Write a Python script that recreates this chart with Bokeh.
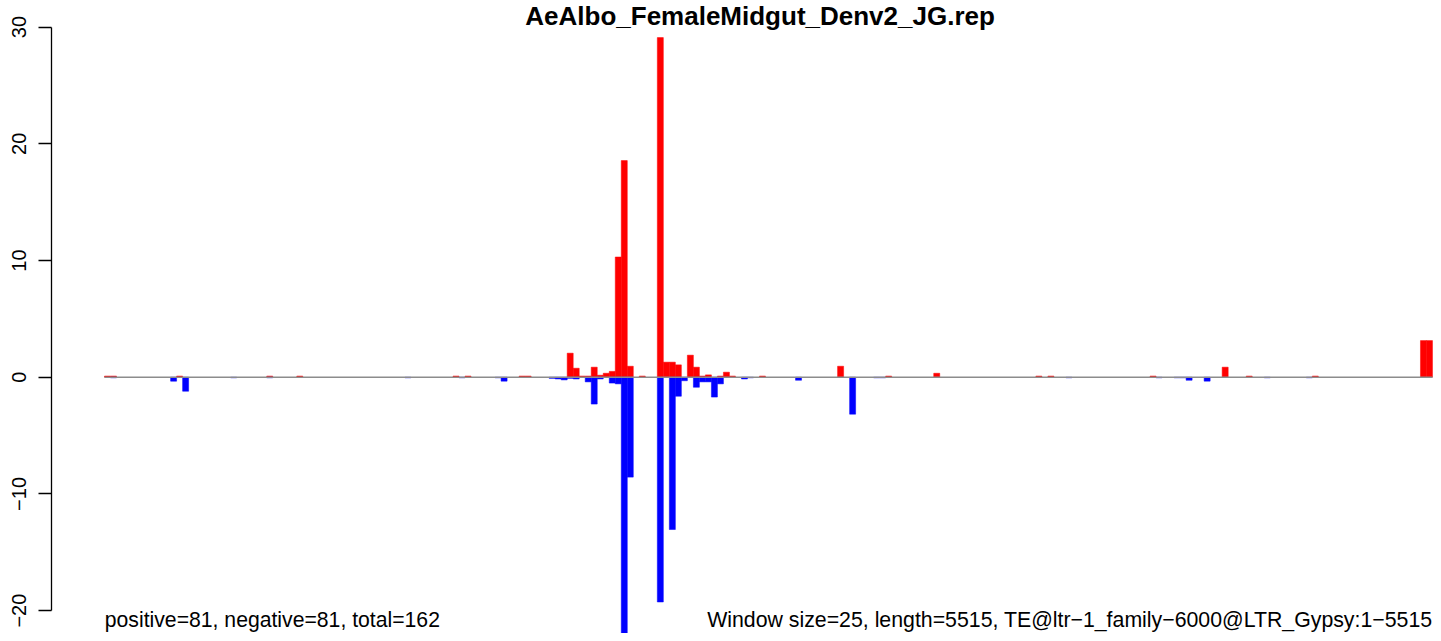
from bokeh.plotting import figure
from bokeh.models import Range1d, FixedTicker, ColumnDataSource
from bokeh.core.properties import value
from bokeh.embed import file_html
from bokeh.resources import INLINE

title_text = "AeAlbo_FemaleMidgut_Denv2_JG.rep"
left_note = "positive=81, negative=81, total=162"
right_note = "Window size=25, length=5515, TE@ltr\u22121_family\u22126000@LTR_Gypsy:1\u22125515"
n_windows = 221

# positive (red) windows and values
pos_idx = [0, 1, 12, 27, 32, 58, 60, 69, 70, 77, 78, 79, 80, 81, 82, 83, 84, 85, 86, 87,
           89, 92, 93, 94, 95, 97, 98, 99, 100, 102, 103, 104, 109, 122, 130, 138, 155,
           157, 174, 186, 190, 201, 219, 220]
pos_val = [0.1, 0.1, 0.1, 0.1, 0.1, 0.1, 0.1, 0.1, 0.1, 2.06, 0.77, 0.1, 0.1, 0.86, 0.17,
           0.34, 0.5, 10.3, 18.56, 0.94, 0.1, 29.1, 1.29, 1.29, 1.06, 1.89, 0.86, 0.1, 0.2,
           0.1, 0.43, 0.1, 0.1, 0.94, 0.1, 0.34, 0.1, 0.1, 0.1, 0.86, 0.1, 0.1, 3.14, 3.14]

# negative (blue) windows and values
neg_idx = [1, 11, 13, 21, 27, 50, 59, 65, 66, 74, 75, 76, 77, 78, 80, 81, 82, 84, 85, 86,
           87, 92, 94, 95, 96, 98, 99, 100, 101, 102, 106, 107, 115, 124, 128, 129, 160,
           175, 178, 179, 180, 183, 193, 200]
neg_val = [-0.05, -0.34, -1.2, -0.05, -0.05, -0.05, -0.05, -0.05, -0.34, -0.1, -0.15,
           -0.23, -0.1, -0.15, -0.4, -2.3, -0.15, -0.5, -0.57, -24.0, -8.56, -19.26, -13.05,
           -1.63, -0.3, -0.86, -0.4, -0.4, -1.7, -0.57, -0.15, -0.05, -0.26, -3.17, -0.05,
           -0.05, -0.05, -0.05, -0.05, -0.05, -0.26, -0.34, -0.05, -0.05]

y_ticks = [-20, -10, 0, 10, 20, 30]

FONT = "Liberation Sans"

p = figure(width=1433, height=633, output_backend="svg", toolbar_location=None,
           x_range=Range1d(-8.82, 221.17), y_range=Range1d(-21.96, 32.28),
           x_axis_location=None, y_axis_location="left",
           min_border_left=51, min_border_right=0, min_border_top=0, min_border_bottom=0)
p.grid.visible = False
p.outline_line_color = None
p.background_fill_color = "white"
p.border_fill_color = "white"

pos_src = ColumnDataSource(dict(x=[i + 0.5 for i in pos_idx], top=pos_val))
neg_src = ColumnDataSource(dict(x=[i + 0.5 for i in neg_idx], top=neg_val))
p.vbar(x="x", top="top", bottom=0, width=1.0, source=pos_src,
       fill_color="#FF0000", line_color="#FF0000", line_width=0.5)
p.vbar(x="x", top="top", bottom=0, width=1.0, source=neg_src,
       fill_color="#0000FF", line_color="#0000FF", line_width=0.5)

p.line(x=[0, n_windows], y=[0, 0], line_color="#8C8C8C", line_width=1.6)

ax = p.yaxis[0]
ax.ticker = FixedTicker(ticks=y_ticks)
ax.bounds = (min(y_ticks), max(y_ticks))
ax.major_tick_out = 13
ax.major_tick_in = 0
ax.minor_tick_line_color = None
ax.axis_line_width = 1.3
ax.major_tick_line_width = 1.3
ax.axis_line_color = "black"
ax.major_tick_line_color = "black"
ax.major_label_orientation = "vertical"
ax.major_label_standoff = 12
ax.major_label_text_font = FONT
ax.major_label_text_font_size = "20px"
ax.major_label_text_color = "black"
ax.major_label_overrides = {t: str(t).replace("-", "\u2212") for t in y_ticks}

p.text(x=[109.1], y=[30.99], text=[title_text], text_font=value(FONT),
       text_font_size=value("26px"), text_font_style="bold", text_align="center",
       text_baseline="alphabetic", text_color="black")

p.text(x=[0.05], y=[-20.77], text=[left_note], text_font=value(FONT),
       text_font_size=value("21.2px"), text_align="left", text_baseline="alphabetic",
       text_color="black")
p.text(x=[n_windows], y=[-20.77], text=[right_note], text_font=value(FONT),
       text_font_size=value("21.3px"), text_align="right", text_baseline="alphabetic",
       text_color="black")

open("out.html", "w").write(file_html(p, INLINE))
